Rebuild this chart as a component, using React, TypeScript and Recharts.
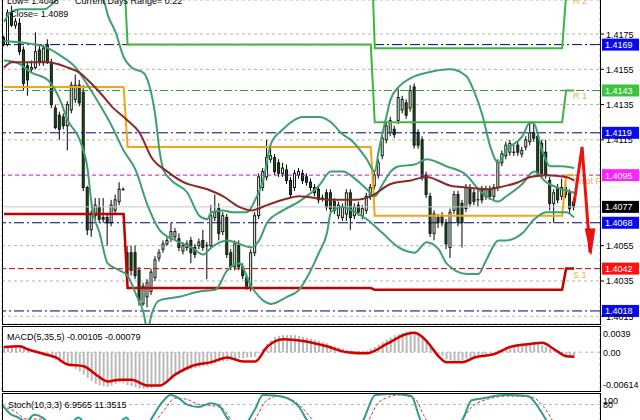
import React from 'react';
import { ComposedChart, Bar, Line, XAxis, YAxis, CartesianGrid, ReferenceLine } from 'recharts';

const FONT = '"Liberation Sans", Arial, sans-serif';

// OHLC per candle
const candles: number[][] = [
  [1.4173,1.4174,1.4168,1.4169],[1.4169,1.4189,1.4168,1.4187],[1.4187,1.4191,1.4179,1.4180],[1.4180,1.4184,1.4178,1.4182],
  [1.4181,1.4184,1.4163,1.4165],[1.4166,1.4168,1.4143,1.4147],[1.4157,1.4159,1.4140,1.4149],[1.4155,1.4160,1.4153,1.4156],
  [1.4156,1.4176,1.4155,1.4165],[1.4166,1.4169,1.4157,1.4159],[1.4159,1.4169,1.4157,1.4167],[1.4169,1.4172,1.4158,1.4159],
  [1.4159,1.4161,1.4133,1.4135],[1.4133,1.4135,1.4121,1.4122],[1.4129,1.4131,1.4115,1.4121],[1.4128,1.4130,1.4121,1.4123],
  [1.4123,1.4137,1.4109,1.4135],[1.4132,1.4148,1.4130,1.4146],[1.4138,1.4152,1.4136,1.4146],[1.4146,1.4149,1.4134,1.4136],
  [1.4142,1.4146,1.4086,1.4088],[1.4088,1.4089,1.4061,1.4064],[1.4064,1.4075,1.4060,1.4073],[1.4072,1.4082,1.4070,1.4078],
  [1.4077,1.4082,1.4068,1.4070],[1.4071,1.4082,1.4068,1.4070],[1.4071,1.4073,1.4055,1.4068],[1.4068,1.4081,1.4066,1.4078],
  [1.4075,1.4084,1.4073,1.4081],[1.4080,1.4091,1.4078,1.4087],[1.4087,1.4088,1.4086,1.4087],[1.4051,1.4055,1.4036,1.4038],
  [1.4051,1.4055,1.4038,1.4041],[1.4051,1.4055,1.4036,1.4038],[1.4041,1.4043,1.4021,1.4024],[1.4022,1.4034,1.4021,1.4032],
  [1.4026,1.4036,1.4020,1.4034],[1.4029,1.4042,1.4027,1.4040],[1.4037,1.4049,1.4035,1.4047],[1.4048,1.4053,1.4046,1.4051],
  [1.4053,1.4058,1.4051,1.4056],[1.4056,1.4060,1.4055,1.4058],[1.4059,1.4068,1.4057,1.4063],[1.4060,1.4065,1.4058,1.4063],
  [1.4059,1.4062,1.4052,1.4054],[1.4052,1.4057,1.4050,1.4055],[1.4054,1.4058,1.4052,1.4056],[1.4058,1.4060,1.4045,1.4051],
  [1.4054,1.4056,1.4048,1.4050],[1.4055,1.4059,1.4053,1.4057],[1.4058,1.4064,1.4052,1.4054],[1.4055,1.4057,1.4036,1.4055],
  [1.4055,1.4078,1.4053,1.4072],[1.4071,1.4084,1.4069,1.4074],[1.4076,1.4079,1.4058,1.4062],[1.4063,1.4074,1.4061,1.4072],
  [1.4071,1.4073,1.4048,1.4050],[1.4051,1.4053,1.4041,1.4043],[1.4043,1.4058,1.4041,1.4056],[1.4055,1.4058,1.4041,1.4043],
  [1.4043,1.4045,1.4036,1.4038],[1.4037,1.4039,1.4030,1.4032],[1.4032,1.4053,1.4029,1.4051],[1.4051,1.4074,1.4049,1.4072],
  [1.4072,1.4096,1.4070,1.4094],[1.4088,1.4099,1.4086,1.4097],[1.4094,1.4115,1.4092,1.4105],[1.4104,1.4112,1.4102,1.4106],
  [1.4105,1.4107,1.4095,1.4097],[1.4102,1.4104,1.4094,1.4096],[1.4096,1.4102,1.4094,1.4099],[1.4098,1.4101,1.4090,1.4092],
  [1.4092,1.4094,1.4082,1.4084],[1.4088,1.4098,1.4086,1.4096],[1.4095,1.4099,1.4093,1.4097],[1.4096,1.4098,1.4090,1.4092],
  [1.4094,1.4096,1.4089,1.4091],[1.4091,1.4093,1.4086,1.4088],[1.4088,1.4090,1.4083,1.4085],[1.4087,1.4089,1.4079,1.4081],
  [1.4082,1.4084,1.4080,1.4082],[1.4085,1.4087,1.4075,1.4077],[1.4085,1.4087,1.4074,1.4076],[1.4080,1.4082,1.4073,1.4075],
  [1.4072,1.4080,1.4070,1.4078],[1.4071,1.4079,1.4069,1.4077],[1.4073,1.4087,1.4069,1.4085],[1.4085,1.4087,1.4064,1.4071],
  [1.4072,1.4079,1.4070,1.4077],[1.4078,1.4080,1.4072,1.4074],[1.4072,1.4078,1.4070,1.4076],[1.4075,1.4085,1.4073,1.4083],
  [1.4083,1.4090,1.4081,1.4088],[1.4089,1.4097,1.4087,1.4095],[1.4095,1.4104,1.4093,1.4102],[1.4106,1.4118,1.4104,1.4116],
  [1.4115,1.4125,1.4113,1.4123],[1.4119,1.4128,1.4117,1.4126],[1.4121,1.4123,1.4116,1.4118],[1.4126,1.4144,1.4124,1.4139],
  [1.4132,1.4140,1.4130,1.4138],[1.4136,1.4138,1.4127,1.4129],[1.4133,1.4146,1.4131,1.4143],[1.4145,1.4147,1.4110,1.4112],
  [1.4119,1.4121,1.4110,1.4112],[1.4115,1.4117,1.4092,1.4094],[1.4095,1.4097,1.4082,1.4084],[1.4083,1.4085,1.4060,1.4062],
  [1.4062,1.4075,1.4058,1.4073],[1.4071,1.4073,1.4065,1.4068],[1.4072,1.4074,1.4066,1.4068],[1.4068,1.4070,1.4053,1.4056],
  [1.4054,1.4076,1.4048,1.4074],[1.4075,1.4086,1.4073,1.4084],[1.4084,1.4086,1.4066,1.4068],[1.4079,1.4081,1.4054,1.4068],
  [1.4076,1.4090,1.4074,1.4088],[1.4088,1.4090,1.4077,1.4079],[1.4085,1.4087,1.4078,1.4080],[1.4081,1.4087,1.4077,1.4081],
  [1.4087,1.4089,1.4079,1.4081],[1.4083,1.4089,1.4081,1.4087],[1.4087,1.4089,1.4081,1.4083],[1.4083,1.4090,1.4081,1.4088],
  [1.4088,1.4104,1.4086,1.4102],[1.4102,1.4109,1.4100,1.4107],[1.4106,1.4114,1.4104,1.4112],[1.4108,1.4115,1.4106,1.4113],
  [1.4108,1.4112,1.4106,1.4108],[1.4112,1.4114,1.4106,1.4108],[1.4107,1.4111,1.4105,1.4109],[1.4111,1.4117,1.4109,1.4115],
  [1.4114,1.4125,1.4112,1.4119],[1.4119,1.4124,1.4114,1.4116],[1.4117,1.4119,1.4094,1.4096],[1.4113,1.4115,1.4094,1.4096],
  [1.4108,1.4115,1.4093,1.4095],[1.4092,1.4094,1.4075,1.4079],[1.4079,1.4087,1.4068,1.4085],[1.4088,1.4090,1.4079,1.4081],
  [1.4083,1.4093,1.4081,1.4088],[1.4088,1.4093,1.4082,1.4084],[1.4085,1.4087,1.4073,1.4076],[1.4080,1.4082,1.4075,1.4077],
];

// Bollinger bands and moving average, read as [candle index, price]
const bbUpperPts: number[][] = [
  [0,1.4182],[2,1.4188],[4,1.4189],[10,1.4189],[14,1.4196],[18,1.4200],[22,1.4198],[25,1.4194],[26,1.4186],[28,1.4176],
  [30,1.4162],[32,1.4156],[35,1.4153],[36,1.4149],[38,1.4128],[39,1.4109],[40,1.4098],[42,1.4092],[46,1.4085],[49,1.4072],
  [51,1.4070],[52,1.4074],[55,1.4075],[57,1.4074],[61,1.4074],[63,1.4081],[65,1.4092],[67,1.4113],[70,1.4121],[72,1.4125],
  [75,1.4128],[79,1.4128],[82,1.4125],[85,1.4118],[87,1.4115],[91,1.4104],[93,1.4097],[94,1.4109],[96,1.4129],[97,1.4138],
  [99,1.4145],[102,1.4150],[106,1.4153],[112,1.4155],[116,1.4151],[118,1.4142],[120,1.4129],[122,1.4111],[124,1.4102],
  [126,1.4109],[130,1.4117],[132,1.4125],[133,1.4124],[135,1.4109],[137,1.4100],[140,1.4100],[143,1.4099],
];
const bbMiddlePts: number[][] = [
  [0,1.4171],[5,1.4170],[10,1.4168],[14,1.4163],[18,1.4156],[21,1.4146],[24,1.4135],[27,1.4123],[30,1.4109],[33,1.4098],
  [36,1.4078],[39,1.4064],[43,1.4058],[47,1.4054],[50,1.4050],[52,1.4054],[56,1.4058],[59,1.4056],[62,1.4054],[64,1.4058],
  [66,1.4068],[70,1.4075],[74,1.4080],[79,1.4089],[82,1.4097],[85,1.4097],[88,1.4093],[91,1.4087],[93,1.4083],[95,1.4090],
  [97,1.4097],[99,1.4100],[103,1.4101],[106,1.4104],[111,1.4100],[116,1.4095],[119,1.4087],[121,1.4083],[124,1.4080],
  [126,1.4083],[130,1.4090],[133,1.4097],[136,1.4091],[140,1.4087],[143,1.4085],
];
const bbLowerPts: number[][] = [
  [0,1.4160],[3,1.4159],[7,1.4153],[11,1.4149],[14,1.4138],[16,1.4126],[19,1.4115],[21,1.4098],[22,1.4078],[24,1.4062],
  [26,1.4045],[29,1.4041],[31,1.4038],[33,1.4028],[35,1.4017],[36,1.4007],[37,1.4016],[39,1.4024],[44,1.4026],[49,1.4029],
  [53,1.4030],[56,1.4041],[59,1.4045],[62,1.4032],[65,1.4024],[67,1.4022],[71,1.4026],[74,1.4030],[76,1.4037],[79,1.4051],
  [81,1.4062],[82,1.4074],[85,1.4077],[88,1.4074],[91,1.4070],[95,1.4062],[99,1.4054],[103,1.4051],[106,1.4057],[109,1.4053],
  [111,1.4045],[116,1.4039],[119,1.4039],[121,1.4047],[124,1.4058],[126,1.4058],[130,1.4062],[133,1.4070],[136,1.4074],
  [141,1.4074],[143,1.4071],
];
const maPts: number[][] = [
  [0,1.4156],[2,1.4159],[4,1.4159],[7,1.4159],[11,1.4159],[16,1.4156],[19,1.4153],[21,1.4149],[24,1.4142],[27,1.4134],
  [31,1.4126],[34,1.4119],[37,1.4105],[41,1.4097],[45,1.4091],[51,1.4087],[55,1.4083],[59,1.4077],[62,1.4075],[66,1.4078],
  [70,1.4081],[74,1.4083],[82,1.4081],[88,1.4081],[92,1.4083],[97,1.4090],[102,1.4092],[106,1.4094],[112,1.4089],
  [116,1.4088],[121,1.4087],[124,1.4088],[129,1.4091],[132,1.4094],[136,1.4095],[141,1.4094],[143,1.4092],
];

// daily pivot levels
const dayStarts = [0, 31, 93, 141];
const dayEnds = [30, 92, 140, 143];
const pivotLevels = [1.4145, 1.4111, 1.4072, 1.4095];
const r1Levels = [1.4215, 1.4169, 1.4125, 1.4143];
const r2Levels = [1.4250, 1.4235, 1.4167, 1.4197];
const s1Levels = [1.4073, 1.4031, 1.4030, 1.4042];

const arrowPts: number[][] = [[143, 1.4079], [145, 1.4111], [147, 1.4051]];

const macdHist = [
  0.0010,0.0010,0.0011,0.0011,0.0010,0.0010,0.0007,0.0004,0.0002,0.0000,
  -0.0003,-0.0007,-0.0010,-0.0014,-0.0017,-0.0020,-0.0023,-0.0025,-0.0029,-0.0033,
  -0.0038,-0.0044,-0.0049,-0.0054,-0.0057,-0.0058,-0.0059,-0.0057,-0.0054,-0.0052,
  -0.0053,-0.0056,-0.0058,-0.0060,-0.0062,-0.0062,-0.0062,-0.0061,-0.0059,-0.0057,
  -0.0053,-0.0049,-0.0045,-0.0040,-0.0036,-0.0033,-0.0030,-0.0029,-0.0027,-0.0026,
  -0.0024,-0.0023,-0.0021,-0.0019,-0.0017,-0.0016,-0.0015,-0.0013,-0.0012,-0.0010,
  -0.0010,-0.0009,-0.0009,-0.0008,-0.0002,0.0006,0.0014,0.0020,0.0026,0.0028,
  0.0029,0.0029,0.0029,0.0029,0.0028,0.0026,0.0025,0.0023,0.0021,0.0019,
  0.0017,0.0015,0.0012,0.0010,0.0008,0.0006,0.0004,0.0003,0.0002,0.0002,
  0.0002,0.0003,0.0006,0.0009,0.0013,0.0017,0.0021,0.0025,0.0029,0.0031,
  0.0033,0.0035,0.0036,0.0035,0.0031,0.0027,0.0021,0.0013,0.0005,-0.0002,
  -0.0006,-0.0012,-0.0014,-0.0016,-0.0015,-0.0014,-0.0011,-0.0009,-0.0007,-0.0005,
  -0.0004,-0.0003,-0.0001,0.0001,0.0003,0.0005,0.0008,0.0010,0.0012,0.0014,
  0.0015,0.0016,0.0016,0.0015,0.0014,0.0012,0.0009,0.0006,0.0003,0.0001,
  -0.0002,-0.0005,-0.0007,-0.00105,
];
const macdSignalPts: number[][] = [
  [0,0.0009],[4,0.0010],[6,0.0005],[10,-0.0003],[13,-0.0009],[16,-0.0021],[20,-0.0024],[23,-0.0038],[26,-0.0050],
  [29,-0.0047],[32,-0.0047],[36,-0.0057],[39,-0.0057],[43,-0.0038],[47,-0.0024],[52,-0.0017],[56,-0.0009],[60,-0.0016],
  [63,-0.0016],[66,0.0009],[70,0.0022],[75,0.0019],[81,0.0010],[86,0.0000],[91,-0.0002],[96,0.0014],[101,0.0031],
  [103,0.0033],[106,0.0019],[109,-0.0007],[111,-0.0017],[115,-0.0017],[118,-0.0009],[123,-0.0003],[127,0.0009],
  [132,0.0014],[135,0.0016],[138,0.0005],[141,-0.0007],[143,-0.00079],
];

const stochMainPts: number[][] = [
  [0,80],[2,62],[4,55],[6,47],[8,60],[10,55],[12,40],[14,30],[17,40],[19,55],[21,40],[23,30],[26,35],[30,50],[31,55],
  [33,30],[36,40],[40,85],[42,98],[44,92],[46,80],[49,75],[52,82],[54,78],[56,55],[59,30],[63,70],[65,98],[68,97],
  [71,92],[74,75],[76,50],[79,30],[86,20],[90,50],[93,98],[98,100],[102,96],[104,55],[106,25],[111,20],[115,55],
  [117,88],[120,92],[125,98],[131,96],[134,70],[136,45],[139,20],[143,7],
];
const stochSignalPts: number[][] = [
  [0,75],[3,68],[6,52],[9,52],[12,48],[15,35],[18,40],[21,48],[24,35],[28,38],[31,50],[34,40],[37,42],[41,75],[43,92],
  [46,90],[49,80],[52,78],[55,72],[58,45],[62,45],[66,88],[69,96],[72,90],[75,72],[78,45],[84,25],[90,35],[94,85],
  [99,98],[103,90],[105,60],[108,30],[113,35],[117,75],[121,90],[126,96],[132,94],[135,75],[138,40],[143,11],
];

const priceTicks = [1.4175, 1.4155, 1.4135, 1.4115, 1.4055, 1.4035, 1.4015];
const macdTicks = [0.0039, 0, -0.00614];
const macdTickLabels = ['0.0039', '0.00', '-0.00614'];
const stochTicks = [100, 80];
const gridRows = [8, 16, 24, 32, 40, 48, 56, 64, 72, 80, 88, 96, 104, 112, 120, 128, 136, 144];

const levelValues = [1.4169, 1.4143, 1.4119, 1.4095, 1.4077, 1.4068, 1.4042, 1.4018];
const levelBoxColors = ['#0a0aee', '#3cc43c', '#0a0aee', '#ff22ff', '#000000', '#0a0aee', '#ff1010', '#0a0aee'];
const levelLineColors = ['#000080', '#2f9e2f', '#000080', '#e000e0', '#c8c8c8', '#000080', '#e00000', '#000080'];
const levelDash = ['10 3 2 3', '8 3 2 3', '10 3 2 3', '4 3', undefined, '10 3 2 3', '6 3', '10 3 2 3'];
const levelSideText = [null, 'R 1', null, 'Pivot Point', null, null, 'S 1', null];

const N = 150;
const rows: any[] = Array.from({ length: N }, (_, i) => ({ i }));
candles.forEach((c, i) => {
  rows[i].o = c[0]; rows[i].h = c[1]; rows[i].l = c[2]; rows[i].c = c[3];
});
const put = (key: string, pts: number[][]) => pts.forEach(([i, v]) => { rows[i][key] = v; });
put('bbU', bbUpperPts);
put('bbM', bbMiddlePts);
put('bbL', bbLowerPts);
put('ma', maPts);
put('arrow', arrowPts);
put('sig', macdSignalPts);
put('stK', stochMainPts);
put('stD', stochSignalPts);
macdHist.forEach((v, i) => { rows[i].macd = v; });
dayStarts.forEach((a, d) => {
  for (let i = a; i <= dayEnds[d]; i++) {
    rows[i].piv = pivotLevels[d];
    rows[i].r1 = r1Levels[d];
    rows[i].r2 = r2Levels[d];
    rows[i].s1 = s1Levels[d];
  }
});

const LABEL_GOLD = '#e8b055';

const Candle = (props: any) => {
  const { x, y, width, height, payload } = props;
  if (!payload || payload.h == null || !isFinite(y) || !isFinite(height)) return null;
  const yHi = Math.min(y, y + height);
  const yLo = Math.max(y, y + height);
  const range = payload.h - payload.l;
  const k = range > 0 ? (yLo - yHi) / range : 0;
  const yO = yHi + (payload.h - payload.o) * k;
  const yC = yHi + (payload.h - payload.c) * k;
  const top = Math.min(yO, yC);
  const bot = Math.max(yO, yC);
  const cx = x + width / 2;
  const bull = payload.c >= payload.o;
  return (
    <g>
      <line x1={cx} x2={cx} y1={yHi} y2={yLo} stroke="#000" strokeWidth={1} />
      {bot - top < 1 ? (
        <line x1={cx - 1.5} x2={cx + 1.5} y1={top} y2={top} stroke="#000" strokeWidth={1} />
      ) : (
        <rect x={cx - 1} y={top} width={2} height={bot - top} fill={bull ? '#ffffff' : '#1f4d22'} stroke="#0a1a0a" strokeWidth={1} />
      )}
    </g>
  );
};

const candleRange = (d: any) => (d.h != null ? [d.l, d.h] : null);

const makeLevelLabel = (idx: number) => (props: any) => {
  const vb = props.viewBox || {};
  const x = vb.x ?? 0;
  const w = vb.width ?? 0;
  const y = (vb.y ?? 0) + (vb.height ?? 0) / 2;
  const right = x + w;
  const side = levelSideText[idx];
  return (
    <g>
      {side ? (
        <svg x={right - 28} y={y} width={28} height={12} overflow="hidden">
          <text x={1} y={9} fontSize={9} fontFamily={FONT} fill={LABEL_GOLD}>{side}</text>
        </svg>
      ) : null}
      <rect x={right + 2} y={y - 6} width={37} height={12} fill={levelBoxColors[idx]} />
      <text x={right + 5} y={y + 3.5} fontSize={9} fontFamily={FONT} fill="#ffffff">{levelValues[idx].toFixed(4)}</text>
    </g>
  );
};

const r2Label = (props: any) => {
  const vb = props.viewBox || {};
  const right = (vb.x ?? 0) + (vb.width ?? 0);
  const y = (vb.y ?? 0) + (vb.height ?? 0) / 2;
  return <text x={right - 27} y={y + 9} fontSize={9} fontFamily={FONT} fill={LABEL_GOLD}>R 2</text>;
};

const PriceTick = (props: any) => {
  const { x, y, payload } = props;
  return (
    <text x={x} y={y + 3.5} fontSize={9} fontFamily={FONT} fill="#000">{Number(payload.value).toFixed(4)}</text>
  );
};

const MacdTick = (props: any) => {
  const { x, y, payload, index } = props;
  const v = payload.value;
  const off = v > 0 ? 8 : v < 0 ? 0 : 3.5;
  const i = macdTicks.indexOf(v);
  return (
    <text x={x - 2} y={y + off} fontSize={9} fontFamily={FONT} fill="#000">{macdTickLabels[i >= 0 ? i : index]}</text>
  );
};

const StochTick = (props: any) => {
  const { x, y, payload } = props;
  const off = payload.value === 100 ? 10 : 4;
  return (
    <text x={x - 2} y={y + off} fontSize={9} fontFamily={FONT} fill="#000">{String(payload.value)}</text>
  );
};

const ArrowHead = (props: any) => {
  const { cx, cy, payload } = props;
  if (!payload || payload.i !== arrowPts[arrowPts.length - 1][0] || !isFinite(cx)) return null;
  return <polygon points={`${cx + 1},${cy + 2} ${cx - 5},${cy - 24} ${cx + 5},${cy - 24}`} fill="#ee1111" stroke="#b00000" strokeWidth={0.5} />;
};

const commonX = (
  <XAxis dataKey="i" type="category" height={0} tick={false} axisLine={false} tickLine={false} ticks={gridRows} interval={0} />
);

const frame = (top: number, height: number): React.CSSProperties => ({
  position: 'absolute', left: 2, top, width: 597, height, border: '1px solid #000', pointerEvents: 'none',
});

const textStyle: React.CSSProperties = {
  position: 'absolute', fontFamily: FONT, fontSize: 9, lineHeight: '10px', color: '#000', whiteSpace: 'nowrap',
};

export default function App() {
  return (
    <div style={{ position: 'absolute', left: 0, top: 0, width: 640, height: 420, overflow: 'hidden', background: '#fff' }}>
      {/* main price panel */}
      <div style={{ position: 'absolute', left: 0, top: 0 }}>
        <ComposedChart width={640} height={325} data={rows} margin={{ top: 0, right: 0, bottom: 1, left: 2 }} barCategoryGap={0}>
          <CartesianGrid stroke="#b4b4b4" strokeDasharray="3 3" />
          {commonX}
          <YAxis orientation="right" width={40} domain={[1.40106, 1.41943]} allowDataOverflow type="number"
            ticks={priceTicks} interval={0} tick={<PriceTick />} tickSize={4} tickLine={{ stroke: '#000' }} axisLine={false} />
          {levelValues.map((v, idx) => (
            <ReferenceLine key={'lv' + idx} y={v} stroke={levelLineColors[idx]} strokeWidth={1}
              strokeDasharray={levelDash[idx]} label={makeLevelLabel(idx)} />
          ))}
          <ReferenceLine y={r2Levels[3]} stroke="none" ifOverflow="visible" label={r2Label} />
          <Line dataKey="r2" stroke="#3fb53f" strokeWidth={2} dot={false} type="linear" isAnimationActive={false} />
          <Line dataKey="r1" stroke="#3fb53f" strokeWidth={2} dot={false} type="linear" isAnimationActive={false} />
          <Line dataKey="piv" stroke="#f5a416" strokeWidth={2} dot={false} type="linear" isAnimationActive={false} />
          <Line dataKey="s1" stroke="#c40000" strokeWidth={2.5} dot={false} type="linear" isAnimationActive={false} />
          <Line dataKey="bbU" stroke="#3f9f72" strokeWidth={2} dot={false} type="monotone" connectNulls isAnimationActive={false} />
          <Line dataKey="bbM" stroke="#3f9f72" strokeWidth={2} dot={false} type="monotone" connectNulls isAnimationActive={false} />
          <Line dataKey="bbL" stroke="#3f9f72" strokeWidth={2} dot={false} type="monotone" connectNulls isAnimationActive={false} />
          <Line dataKey="ma" stroke="#8b2828" strokeWidth={2} dot={false} type="monotone" connectNulls isAnimationActive={false} />
          <Bar dataKey={candleRange} shape={Candle} barSize={3} isAnimationActive={false} />
          <Line dataKey="arrow" stroke="#ee1111" strokeWidth={3} dot={ArrowHead} type="linear" connectNulls isAnimationActive={false} />
        </ComposedChart>
      </div>
      <div style={frame(-1, 324)} />
      <div style={{ ...textStyle, left: 7, top: -4 }}>Low= 1.4048</div>
      <div style={{ ...textStyle, left: 75, top: -4 }}>Current Days Range= 0.22</div>
      <div style={{ ...textStyle, left: 10, top: 9 }}>Close= 1.4089</div>

      {/* MACD panel */}
      <div style={{ position: 'absolute', left: 0, top: 327 }}>
        <ComposedChart width={640} height={65} data={rows} margin={{ top: 0, right: 0, bottom: 0, left: 2 }} barCategoryGap={0}>
          <CartesianGrid stroke="#b4b4b4" strokeDasharray="3 3" horizontal={false} />
          {commonX}
          <YAxis orientation="right" width={40} domain={[-0.0068, 0.0043]} allowDataOverflow type="number"
            ticks={macdTicks} interval={0} tick={<MacdTick />} tickSize={3} tickLine={false} axisLine={false} />
          <ReferenceLine y={0} stroke="#b4b4b4" strokeDasharray="3 3" />
          <Bar dataKey="macd" fill="#b9b9b9" barSize={2} isAnimationActive={false} />
          <Line dataKey="sig" stroke="#d40000" strokeWidth={2.5} dot={false} type="monotone" connectNulls isAnimationActive={false} />
        </ComposedChart>
      </div>
      <div style={frame(326, 64)} />
      <div style={{ ...textStyle, left: 7, top: 332 }}>MACD(5,35,5) -0.00105 -0.00079</div>

      {/* Stochastic panel */}
      <div style={{ position: 'absolute', left: 0, top: 394 }}>
        <ComposedChart width={640} height={52} data={rows} margin={{ top: 0, right: 0, bottom: 0, left: 2 }}>
          <CartesianGrid stroke="#b4b4b4" strokeDasharray="3 3" horizontal={false} />
          {commonX}
          <YAxis orientation="right" width={40} domain={[0, 100]} allowDataOverflow type="number"
            ticks={stochTicks} interval={0} tick={<StochTick />} tickSize={3} tickLine={false} axisLine={false} />
          <ReferenceLine y={80} stroke="#b4b4b4" strokeDasharray="3 3" />
          <Line dataKey="stD" stroke="#e03030" strokeWidth={1} strokeDasharray="3 2" dot={false} type="monotone" connectNulls isAnimationActive={false} />
          <Line dataKey="stK" stroke="#2f9c8c" strokeWidth={2} dot={false} type="monotone" connectNulls isAnimationActive={false} />
        </ComposedChart>
      </div>
      <div style={frame(393, 60)} />
      <div style={{ ...textStyle, left: 8, top: 400 }}>Stoch(10,3,3) 6.9565 11.3515</div>
    </div>
  );
}
